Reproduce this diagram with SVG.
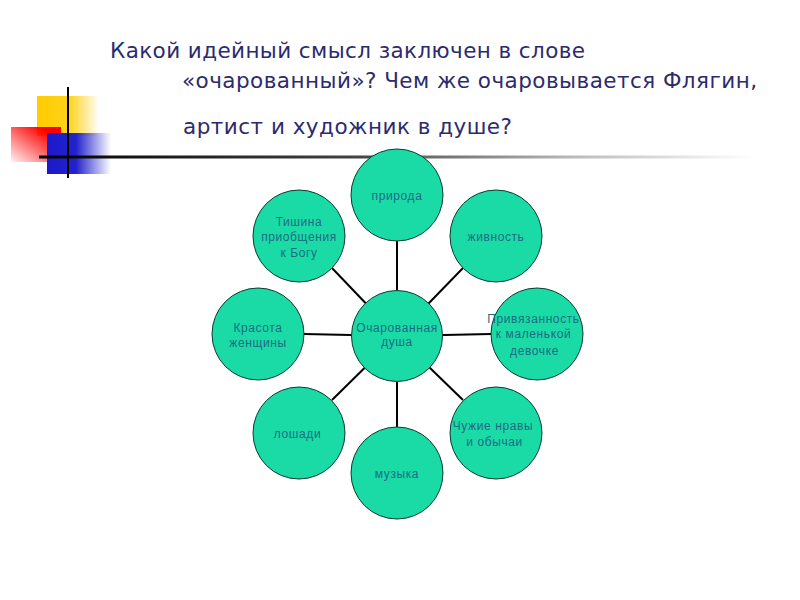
<svg xmlns="http://www.w3.org/2000/svg" width="800" height="600" viewBox="0 0 800 600">
<defs>
<linearGradient id="gY" x1="0" y1="0" x2="1" y2="0"><stop offset="0" stop-color="#ffcc00"/><stop offset="0.5" stop-color="#ffd21a"/><stop offset="1" stop-color="#ffcc00" stop-opacity="0"/></linearGradient>
<linearGradient id="gR" x1="1" y1="0" x2="0" y2="1"><stop offset="0.2" stop-color="#ff0000"/><stop offset="1" stop-color="#ff0000" stop-opacity="0.05"/></linearGradient>
<linearGradient id="gB" x1="0" y1="0" x2="1" y2="0"><stop offset="0" stop-color="#1a1acc"/><stop offset="0.45" stop-color="#2222cc"/><stop offset="1" stop-color="#2222cc" stop-opacity="0"/></linearGradient>
<linearGradient id="gL" x1="0" y1="0" x2="1" y2="0"><stop offset="0" stop-color="#000"/><stop offset="0.45" stop-color="#444"/><stop offset="0.75" stop-color="#bbb"/><stop offset="1" stop-color="#fff"/></linearGradient>
<style>
.n{fill:#1adba6;stroke:#0c3b30;stroke-width:1}
.t{font-family:"Liberation Sans",Arial,sans-serif;font-size:12px;letter-spacing:0.6px;fill:#1d6b82;text-anchor:middle}
.h{font-family:"DejaVu Sans",Verdana,sans-serif;font-size:21.5px;fill:#2b2b6e}
#edges line{stroke:#000;stroke-width:2}
</style>
</defs>
<rect width="800" height="600" fill="#fff"/>
<g id="deco">
<rect x="37" y="96" width="62" height="40" fill="url(#gY)"/>
<rect x="11" y="127" width="50" height="35" fill="url(#gR)"/>
<rect x="47" y="133" width="64" height="41" fill="url(#gB)"/>
<rect x="39" y="155.5" width="715" height="3" fill="url(#gL)"/>
<line x1="68" y1="87" x2="68" y2="178" stroke="#000" stroke-width="2"/>
</g>
<g id="title">
<text class="h" x="110" y="57.5" textLength="475" lengthAdjust="spacing">Какой идейный смысл заключен в слове</text>
<text class="h" x="182" y="88" textLength="575" lengthAdjust="spacing">«очарованный»? Чем же очаровывается Флягин,</text>
<text class="h" x="183" y="134" textLength="329" lengthAdjust="spacing">артист и художник в душе?</text>
</g>
<g id="edges">
<line x1="397" y1="336" x2="397" y2="241"/>
<line x1="397" y1="336" x2="463" y2="268"/>
<line x1="397" y1="336" x2="332" y2="268"/>
<line x1="397" y1="336" x2="304" y2="334"/>
<line x1="397" y1="336" x2="491" y2="334"/>
<line x1="397" y1="336" x2="332" y2="400"/>
<line x1="397" y1="336" x2="463" y2="400"/>
<line x1="397" y1="336" x2="397" y2="427"/>
</g>
<g id="center"><circle class="n" cx="397" cy="336" r="45.5"/><text class="t" x="397" y="332">Очарованная</text><text class="t" x="397" y="346">душа</text></g>
<g id="n-priroda"><circle class="n" cx="397" cy="195" r="46"/><text class="t" x="397" y="199.5">природа</text></g>
<g id="n-zhivnost"><circle class="n" cx="496" cy="236" r="46"/><text class="t" x="496" y="241">живность</text></g>
<g id="n-tishina"><circle class="n" cx="299" cy="236" r="46"/><text class="t" x="299" y="226">Тишина</text><text class="t" x="299" y="241">приобщения</text><text class="t" x="299" y="257">к Богу</text></g>
<g id="n-krasota"><circle class="n" cx="258" cy="334" r="46"/><text class="t" x="258" y="331.5">Красота</text><text class="t" x="258" y="346.5">женщины</text></g>
<g id="n-privyaz"><circle class="n" cx="537" cy="334" r="46"/><text class="t" x="533.5" y="323">Привязанность</text><text class="t" x="533.5" y="338">к маленькой</text><text class="t" x="534.5" y="355">девочке</text></g>
<g id="n-loshadi"><circle class="n" cx="299" cy="433" r="46"/><text class="t" x="297.5" y="438">лошади</text></g>
<g id="n-chuzhie"><circle class="n" cx="496" cy="433" r="46"/><text class="t" x="493" y="430">Чужие нравы</text><text class="t" x="494.5" y="445.5">и обычаи</text></g>
<g id="n-muzyka"><circle class="n" cx="397" cy="473" r="46"/><text class="t" x="397" y="477.5">музыка</text></g>
</svg>
